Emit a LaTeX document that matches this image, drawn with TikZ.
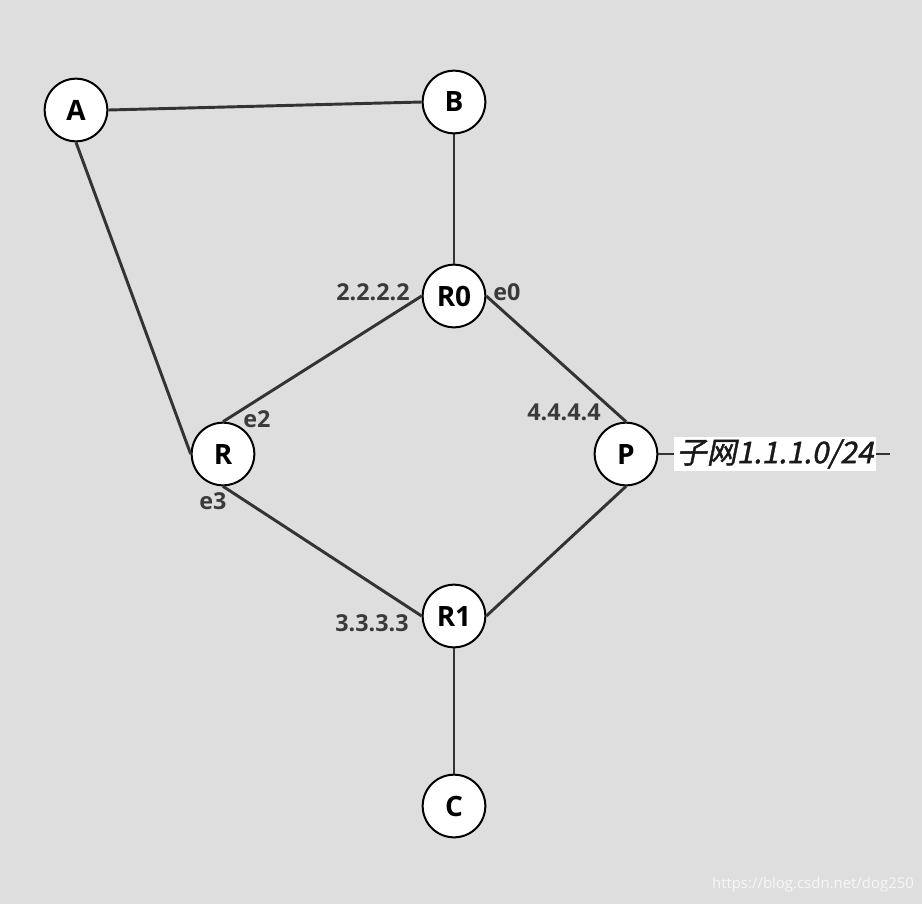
\documentclass[tikz,border=0pt]{standalone}
\usepackage{fontspec}
\setmainfont{Open Sans}
\newfontfamily\cjk[FakeSlant=0.2,FakeBold=1.2]{Noto Sans CJK SC}
\definecolor{bg}{HTML}{DEDEDE}
\definecolor{edgec}{HTML}{333333}
\definecolor{labc}{HTML}{3A3A3A}
\begin{document}
\begin{tikzpicture}[x=0.75pt,y=-0.75pt,
  host/.style={circle,draw=black,line width=1.5pt,fill=white,minimum size=47pt,inner sep=0pt,font=\fontsize{21}{24}\selectfont\bfseries},
  link/.style={draw=edgec,line width=2.2pt},
  iplab/.style={text=labc,font=\fontsize{17.5}{20}\selectfont\bfseries,inner sep=0pt}]
\fill[bg] (0,0) rectangle (922,904);
\useasboundingbox (0,0) rectangle (922,904);
\node[host] (A) at (76,110) {A};
\node[host] (B) at (454,102) {B};
\node[host] (R0) at (454,296) {R0};
\node[host] (R) at (223,454) {R};
\node[host] (P) at (626,454) {P};
\node[host] (R1) at (454,616) {R1};
\node[host] (C) at (454,806) {C};
\draw[link] (A.east) -- (B.west);
\draw[link] (A.south) -- (R.west);
\draw[link] (B.south) -- (R0.north);
\draw[link] (R0.west) -- (R.north);
\draw[link] (R0.east) -- (P.north);
\draw[link] (R.south) -- (R1.west);
\draw[link] (P.south) -- (R1.east);
\draw[link] (R1.south) -- (C.north);
\coordinate (subend) at (890,454);
\draw[link] (P.east) -- (subend);
\node[fill=white,inner xsep=2pt,inner ysep=2pt,text=black!90,font=\cjk\fontsize{22.5}{26}\selectfont] (sub) at (775,454) {子网1.1.1.0/24};
\node[iplab] (l1) at (373,292) {2.2.2.2};
\node[iplab] (l2) at (507,292) {e0};
\node[iplab] (l3) at (564,412) {4.4.4.4};
\node[iplab] (l4) at (257,419) {e2};
\node[iplab] (l5) at (213,501) {e3};
\node[iplab] (l6) at (372,623) {3.3.3.3};
\node[text=white!75!bg,font=\fontsize{11.2}{13}\selectfont,inner sep=0pt] (wm) at (813,885) {https://blog.csdn.net/dog250};
\end{tikzpicture}
\end{document}
